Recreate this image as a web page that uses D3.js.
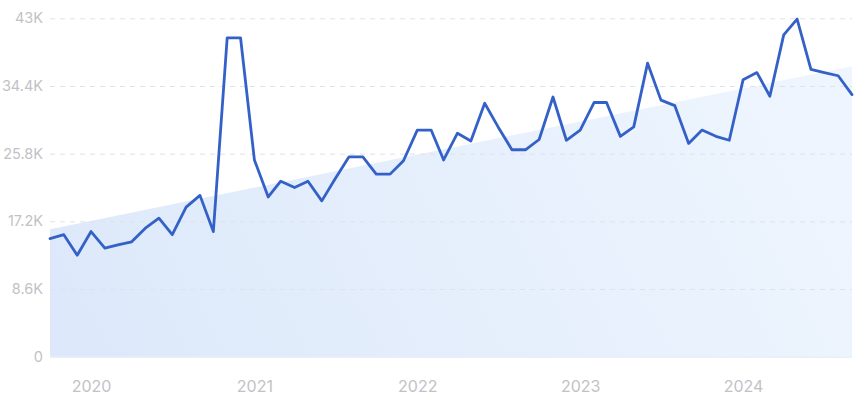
<!DOCTYPE html>
<html>
<head>
<meta charset="utf-8">
<script src="https://cdn.jsdelivr.net/npm/d3@7"></script>
<style>
  html, body { margin: 0; padding: 0; background: #ffffff; }
  svg { display: block; }
  text { font-family: Inter, "Noto Sans", sans-serif; }
</style>
</head>
<body>
<svg id="chart" width="861" height="400"></svg>
<script>
// ---- Data ----
const startMonth = "2019-10";   // first monthly point
const values = [
  15000, 15500, 12900, 15900, 13800, 14200, 14600, 16300, 17600, 15500,
  19000, 20500, 15900, 40500, 40500, 25000, 20300, 22300, 21500, 22300,
  19800, 22600, 25400, 25400, 23200, 23200, 24900, 28800, 28800, 25000,
  28400, 27400, 32200, 29200, 26300, 26300, 27600, 33000, 27500, 28800,
  32300, 32300, 28000, 29200, 37300, 32600, 31900, 27100, 28800, 28000,
  27500, 35200, 36100, 33100, 40900, 42900, 36500, 36100, 35700, 33300
];
const trendValues = [16200, 36900];          // trend band: start, end
const yTicks = [0, 8600, 17200, 25800, 34400, 43000];
const yTickLabels = ["0", "8.6K", "17.2K", "25.8K", "34.4K", "43K"];
const xTickYears = [2020, 2021, 2022, 2023, 2024];

// ---- Layout ----
const W = 861, H = 400;
const margin = { left: 50, right: 9, top: 18.3, bottom: 43.3 };
const svg = d3.select("#chart");

const parse = d3.timeParse("%Y-%m");
const t0 = parse(startMonth);
const dates = values.map((v, i) => d3.timeMonth.offset(t0, i));
const data = values.map((v, i) => ({ date: dates[i], value: v }));

const x = d3.scaleTime()
  .domain([dates[0], dates[dates.length - 1]])
  .range([margin.left, W - margin.right]);
const y = d3.scaleLinear()
  .domain([0, 43000])
  .range([H - margin.bottom, margin.top]);

// gradient
const defs = svg.append("defs");
const grad = defs.append("linearGradient")
  .attr("id", "areaGrad")
  .attr("x1", "0").attr("y1", "0.6").attr("x2", "1").attr("y2", "0.4");
grad.append("stop").attr("offset", "0").attr("stop-color", "#dde9fa");
grad.append("stop").attr("offset", "1").attr("stop-color", "#eef5fe");

// trend area
const trendData = [
  { date: dates[0], value: trendValues[0] },
  { date: dates[dates.length - 1], value: trendValues[1] }
];
svg.append("path")
  .datum(trendData)
  .attr("fill", "url(#areaGrad)")
  .attr("d", d3.area()
    .x(d => x(d.date))
    .y0(y(0))
    .y1(d => y(d.value)));

// grid lines
const yAxis = d3.axisLeft(y)
  .tickValues(yTicks)
  .tickFormat((d, i) => yTickLabels[i])
  .tickSize(-(W - margin.left - margin.right))
  .tickPadding(7);

const gy = svg.append("g")
  .attr("transform", `translate(${margin.left},0)`)
  .call(yAxis);
gy.select(".domain").remove();
gy.selectAll(".tick line")
  .attr("stroke", d => d === 0 ? "#dfe7f3" : "#dde3ea")
  .attr("stroke-width", 1)
  .attr("stroke-dasharray", d => d === 0 ? null : "5,5");
gy.selectAll(".tick text")
  .attr("fill", "#c2c2c6")
  .attr("font-size", "14.5px")
  .attr("font-family", "Inter, 'Noto Sans', sans-serif");

// x axis
const xAxis = d3.axisBottom(x)
  .tickValues(xTickYears.map(yr => new Date(yr, 0, 1)))
  .tickFormat(d3.timeFormat("%Y"))
  .tickSize(0)
  .tickPadding(24);
const gx = svg.append("g")
  .attr("transform", `translate(0,${H - margin.bottom})`)
  .call(xAxis);
gx.select(".domain").remove();
gx.selectAll(".tick text")
  .attr("fill", "#c2c2c6")
  .attr("font-size", "16px")
  .attr("font-family", "Inter, 'Noto Sans', sans-serif");

// line
svg.append("path")
  .datum(data)
  .attr("fill", "none")
  .attr("stroke", "#3461c8")
  .attr("stroke-width", 2.8)
  .attr("stroke-linejoin", "round")
  .attr("stroke-linecap", "round")
  .attr("d", d3.line()
    .x(d => x(d.date))
    .y(d => y(d.value)));
</script>
</body>
</html>
